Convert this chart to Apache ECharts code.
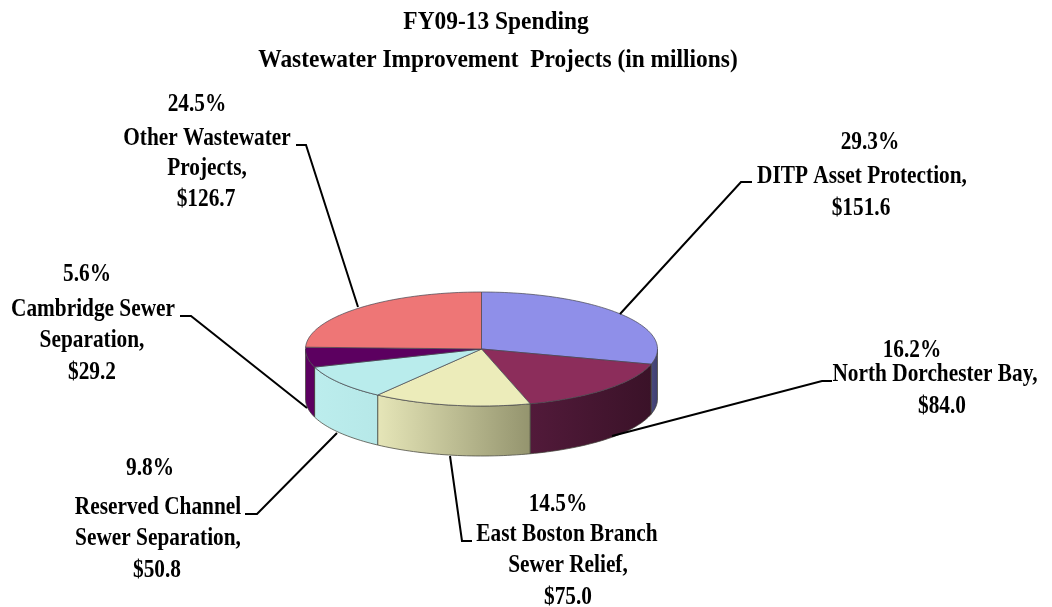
<!DOCTYPE html>
<html><head><meta charset="utf-8">
<style>html,body{margin:0;padding:0;background:#fff}#c{width:1052px;height:607px}</style>
<script src="https://cdn.jsdelivr.net/npm/echarts@6/dist/echarts.min.js"></script>
</head><body><div id="c"></div>
<script>
var categories = ['DITP Asset Protection','North Dorchester Bay','East Boston Branch Sewer Relief','Reserved Channel Sewer Separation','Cambridge Sewer Separation','Other Wastewater Projects'];
var spending = [151.6, 84.0, 75.0, 50.8, 29.2, 126.7];
var percents = ['29.3%','16.2%','14.5%','9.8%','5.6%','24.5%'];
var titleLines = ['FY09-13 Spending', 'Wastewater Improvement  Projects (in millions)'];

var topColors = ['#8f8fe9','#8c2d5b','#ececba','#b9ecec','#5c0060','#ee7676'];
var sideLight = ['#4a4a80','#521a3a','#e6e6b8','#bceded','#5c0060','#ee7676'];
var sideDark = ['#3d3d6e','#3a1228','#94946e','#b6e8e8','#5c0060','#ee7676'];

var CX = 481.5, CY = 349, RX = 176, RY = 57, DEPTH = 50;
var FONT = 'bold 26px "Liberation Serif"';
var SQUEEZE = 0.82;
var total = spending.reduce(function (a, b) { return a + b; }, 0);

function pt(deg, dy) {
  var a = deg * Math.PI / 180;
  return [CX + RX * Math.sin(a), CY - RY * Math.cos(a) + (dy || 0)];
}
function arc(a0, a1, dy) {
  var pts = [], n = Math.max(2, Math.ceil(Math.abs(a1 - a0) / 1.5));
  for (var i = 0; i <= n; i++) pts.push(pt(a0 + (a1 - a0) * i / n, dy));
  return pts;
}
function startAngle(i) {
  var s = 0;
  for (var k = 0; k < i; k++) s += spending[k];
  return s / total * 360;
}

var labels = [
  {px: 870, py: 141, lines: [['DITP Asset Protection,', 862, 175], ['$151.6', 861, 207]]},
  {px: 912, py: 349, lines: [['North Dorchester Bay,', 935, 373], ['$84.0', 942, 405]]},
  {px: 558, py: 503, lines: [['East Boston Branch', 567, 533], ['Sewer Relief,', 568, 564], ['$75.0', 568, 596]]},
  {px: 150, py: 467, lines: [['Reserved Channel', 158, 506], ['Sewer Separation,', 158, 537], ['$50.8', 157, 569]]},
  {px: 87, py: 273, lines: [['Cambridge Sewer', 93, 308], ['Separation,', 92, 339], ['$29.2', 92, 371]]},
  {px: 197, py: 103, lines: [['Other Wastewater', 207, 137], ['Projects,', 207, 167], ['$126.7', 206, 198]]}
];
var leaders = [
  [[752,182],[741,182],[620,314]],
  [[832,381],[822,381],[612,436]],
  [[472,541],[462,541],[450,456]],
  [[245,514],[257,514],[337,433]],
  [[180,316],[191,316],[307,408]],
  [[296,145],[306,145],[358,307]]
];

function textEl(t, x, y, squeeze) {
  return {type: 'text', x: x, y: y + 1, scaleX: squeeze || SQUEEZE, z2: 6,
    style: {text: t, font: FONT, fill: '#000', align: 'center', verticalAlign: 'middle'}};
}

function renderSlice(params, api) {
  var i = params.dataIndex;
  var a0 = startAngle(i), a1 = a0 + api.value(0) / total * 360;
  var children = [];
  var f0 = Math.max(a0, 90), f1 = Math.min(a1, 270);
  if (f1 > f0) {
    children.push({
      type: 'polygon', shape: {points: arc(f0, f1, 0).concat(arc(f1, f0, DEPTH))},
      style: {
        fill: new echarts.graphic.LinearGradient(0, 0, 1, 0, [{offset: 0, color: sideLight[i]}, {offset: 1, color: sideDark[i]}]),
        stroke: 'rgba(70,70,60,0.75)', lineWidth: 1
      }
    });
  }
  children.push({
    type: 'polygon', shape: {points: [[CX, CY]].concat(arc(a0, a1, 0))},
    style: {fill: topColors[i], stroke: 'rgba(70,70,80,0.7)', lineWidth: 1}
  });
  children.push({type: 'polyline', shape: {points: leaders[i]}, z2: 5, style: {stroke: '#000', lineWidth: 2, fill: null}});
  var b = labels[i];
  children.push(textEl(percents[i], b.px, b.py));
  b.lines.forEach(function (l) { children.push(textEl(l[0], l[1], l[2])); });
  return {type: 'group', children: children};
}

var chart = echarts.init(document.getElementById('c'), null, {renderer: 'canvas'});
chart.setOption({
  animation: false,
  backgroundColor: '#fff',
  tooltip: {show: false},
  graphic: [
    Object.assign(textEl(titleLines[0], 496, 21, 0.9), {silent: true}),
    Object.assign(textEl(titleLines[1], 498, 59, 0.9), {silent: true})
  ],
  series: [{
    type: 'custom',
    coordinateSystem: 'none',
    renderItem: renderSlice,
    silent: true,
    data: spending.map(function (v, i) { return {name: categories[i], value: [v]}; })
  }]
});
</script></body></html>
